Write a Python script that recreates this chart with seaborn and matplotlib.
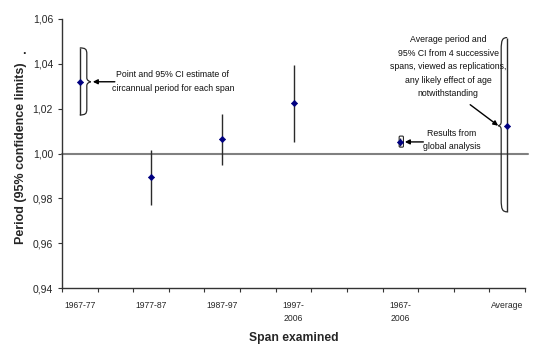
import matplotlib
matplotlib.use("Agg")
import matplotlib.pyplot as plt
import seaborn as sns
import pandas as pd
from matplotlib.path import Path
from matplotlib.patches import PathPatch, FancyBboxPatch

# ---- data ----
categories = ["1967-77", "", "1977-87", "", "1987-97", "", "1997-\n2006", "", "",
              "1967-\n2006", "", "", "Average"]
spans = ["1967-77", "1977-87", "1987-97", "1997-\n2006", "1967-\n2006", "Average"]
period = [1.032, 0.9894, 1.0063, 1.0224, 1.0053, 1.0124]
ci_low = [1.0172, 0.977, 0.9949, 1.0053, 1.0035, 0.974]
ci_high = [1.0471, 1.0016, 1.0176, 1.0395, 1.0071, 1.0517]
yticks = [0.94, 0.96, 0.98, 1.00, 1.02, 1.04, 1.06]
ytick_labels = ["0,94", "0,96", "0,98", "1,00", "1,02", "1,04", "1,06"]

sns.set_style("white")
plt.rcParams["font.family"] = ["Liberation Sans", "DejaVu Sans"]

W, H = 536, 359
fig = plt.figure(figsize=(W / 100, H / 100), dpi=100)
L, R, T, B = 62, 525, 19, 288
ax = fig.add_axes([L / W, 1 - B / H, (R - L) / W, (B - T) / H])

df = pd.DataFrame({
    "span": spans,
    "x": [categories.index(s) + 0.5 for s in spans],
    "period": period,
    "lo": ci_low,
    "hi": ci_high,
})

ax.set_xlim(0, len(categories))
ax.set_ylim(yticks[0], yticks[-1])

# reference line at 1.00
ax.axhline(1.0, xmax=1.006, color="#808080", lw=1.5, zorder=1, clip_on=False)

# error bars
ax.vlines(df["x"], df["lo"], df["hi"], color="#2a2a2a", lw=1.0, zorder=2)

# points
sns.scatterplot(data=df, x="x", y="period", ax=ax, marker="D", s=10,
                color="#000080", edgecolor="#000080", linewidth=0.5, zorder=4,
                legend=False)

# pixel -> data unit helpers
px_x = len(categories) / (R - L)
px_y = (yticks[-1] - yticks[0]) / (B - T)


def brace(x0, ylo, yhi, yc, direction, width, cusp, corner):
    d = direction
    def P(dx, y):
        return (x0 + d * dx * px_x, y)
    cy = corner * px_y
    verts = [
        P(0, yhi),
        P(width * 0.8, yhi), P(width, yhi - cy * 0.2), P(width, yhi - cy),
        P(width, yc + 4 * px_y),
        P(width, yc + 1.5 * px_y), P(cusp - 2, yc + 0.5 * px_y), P(cusp, yc),
        P(cusp - 2, yc - 0.5 * px_y), P(width, yc - 1.5 * px_y), P(width, yc - 4 * px_y),
        P(width, ylo + cy),
        P(width, ylo + cy * 0.2), P(width * 0.8, ylo), P(0, ylo),
    ]
    codes = [Path.MOVETO,
             Path.CURVE4, Path.CURVE4, Path.CURVE4,
             Path.LINETO,
             Path.CURVE4, Path.CURVE4, Path.CURVE4,
             Path.CURVE4, Path.CURVE4, Path.CURVE4,
             Path.LINETO,
             Path.CURVE4, Path.CURVE4, Path.CURVE4]
    ax.add_patch(PathPatch(Path(verts, codes), fill=False, ec="#2a2a2a", lw=0.9,
                           zorder=3))


# brace for first span (opens right)
r0 = df.iloc[0]
brace(r0["x"], r0["lo"], r0["hi"], r0["period"], +1, 7, 11, 6)
# brace for average (opens left)
r5 = df.iloc[5]
brace(r5["x"], r5["lo"], r5["hi"], r5["period"], -1, 6, 9, 12)

# small box around global-analysis estimate
r4 = df.iloc[4]
bx0 = r4["x"] - 1.2 * px_x
ax.add_patch(FancyBboxPatch((bx0, r4["lo"] - 1.5 * px_y), 4.3 * px_x,
                            (r4["hi"] - r4["lo"]) + 3 * px_y,
                            boxstyle="round,pad=0,rounding_size=0.03",
                            fill=False, ec="#2a2a2a", lw=0.8, zorder=3,
                            mutation_aspect=px_y / px_x))

# annotations
ann_fs = 6.3
arrow = dict(arrowstyle="-|>", color="black", lw=1.0, mutation_scale=7,
             shrinkA=0, shrinkB=0)
ax.annotate("", xy=(r0["x"] + 13 * px_x, r0["period"]),
            xytext=(r0["x"] + 35 * px_x, r0["period"]), arrowprops=arrow)
ax.text(r0["x"] + 93 * px_x, r0["period"],
        "Point and 95% CI estimate of\ncircannual period for each span",
        ha="center", va="center", fontsize=ann_fs, linespacing=1.65,
        color="#111111")

ax.annotate("", xy=(r4["x"] + 4.5 * px_x, 1.0053 - 0.3 * px_y),
            xytext=(r4["x"] + 23 * px_x, 1.0053 - 0.3 * px_y), arrowprops=arrow)
ax.text(r4["x"] + 51 * px_x, 1.0053 + 1.5 * px_y,
        "Results from\nglobal analysis",
        ha="center", va="center", fontsize=ann_fs, linespacing=1.65,
        color="#111111")

ax.annotate("", xy=(r5["x"] - 9 * px_x, r5["period"]),
            xytext=(r5["x"] - 37 * px_x, r5["period"] + 21 * px_y), arrowprops=arrow)
ax.text(r5["x"] - 59 * px_x, r5["period"] + 59 * px_y,
        "Average period and\n95% CI from 4 successive\nspans, viewed as replications,\n"
        "any likely effect of age\nnotwithstanding",
        ha="center", va="center", fontsize=ann_fs, linespacing=1.65,
        color="#111111")

# axes styling
for s in ["top", "right"]:
    ax.spines[s].set_visible(False)
for s in ["left", "bottom"]:
    ax.spines[s].set_color("#333333")
    ax.spines[s].set_linewidth(1.0)

ax.set_yticks(yticks)
ax.set_yticklabels(ytick_labels)
ax.tick_params(axis="y", direction="out", length=3, width=0.8, color="#333333",
               labelsize=7.5, pad=3.5, left=True)

ax.set_xticks(range(len(categories) + 1))
ax.set_xticklabels([])
ax.set_xticks([i + 0.5 for i in range(len(categories))], minor=True)
ax.set_xticklabels(categories, minor=True, fontsize=6.2, ha="center", va="top")
for t in ax.get_xticklabels(minor=True):
    t.set_linespacing(1.6)
ax.tick_params(axis="x", which="major", direction="out", length=3, width=0.8,
               color="#333333", bottom=True)
ax.tick_params(axis="x", which="minor", length=0, pad=9, bottom=True)

ax.set_xlabel("Span examined", fontsize=8.7, fontweight="bold")
ax.set_ylabel("Period (95% confidence limits)", fontsize=9, fontweight="bold")
ax.xaxis.set_label_coords((294 - L) / (R - L), (B - 338) / (B - T))
ax.xaxis.label.set_va("center")
ax.yaxis.set_label_coords((21 - L) / (R - L), 0.5)
ax.yaxis.label.set_va("center")

fig.text(24 / W, 1 - 53.5 / H, ".", fontsize=9, fontweight="bold",
         ha="center", va="baseline")

fig.savefig("out.png", dpi=100)
